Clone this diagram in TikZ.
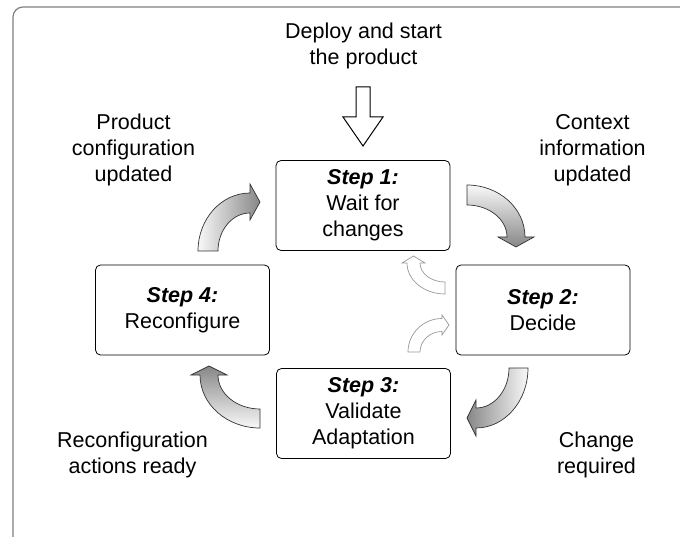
\documentclass[tikz,border=0pt]{standalone}
\usepackage{fontspec}
\setmainfont{Liberation Sans}
\begin{document}
\begin{tikzpicture}[x=1pt,y=1pt,
  lbl/.style={align=center, font=\fontsize{21.5}{26}\selectfont, inner sep=0pt},
  stepbox/.style={draw=black, line width=0.8pt, rounded corners=5pt, fill=white,
    minimum width=174pt, minimum height=90pt, align=center,
    font=\fontsize{21.5}{26}\selectfont, inner sep=0pt},
  bigarr/.style={draw=black!80, line width=0.7pt},
  smallarr/.style={draw=black!40, fill=white, line width=0.7pt},
  startarr/.style={draw=black, fill=white, line width=1pt},
]
\definecolor{arrdark}{RGB}{135,135,135}
\definecolor{arrlight}{RGB}{248,248,248}
\useasboundingbox (0,0) rectangle (680,536);
\begin{scope}
\clip (0,0) rectangle (680,536);
\draw[draw=black!50, line width=1.2pt, rounded corners=10pt] (13,-40) rectangle (720,529);
\end{scope}

% boxes
\node[stepbox] (s1) at (363,330.5) {\textbf{\textit{Step 1:}}\\Wait for\\changes};
\node[stepbox] (s2) at (543,226) {\textbf{\textit{Step 2:}}\\Decide};
\node[stepbox] (s3) at (363.5,122.5) {\textbf{\textit{Step 3:}}\\Validate\\Adaptation};
\node[stepbox] (s4) at (182.5,226) {\textbf{\textit{Step 4:}}\\Reconfigure};

% labels
\node[lbl] (l0) at (363.5,490.5) {Deploy and start\\the product};
\node[lbl] (l1) at (133.5,386) {Product\\configuration\\updated};
\node[lbl] (l2) at (592.5,386) {Context\\information\\updated};
\node[lbl] (l3) at (596.5,81.5) {Change\\required};
\node[lbl] (l4) at (132.5,81.5) {Reconfiguration\\actions ready};

% start arrow
\draw[startarr] (356,449) -- (370,449) -- (370,419) -- (383,419) -- (363,390) -- (343,419) -- (356,419) -- cycle;

% big curved arrows
\shadedraw[bigarr, left color=arrlight, right color=arrdark]
  (198,285) arc[start angle=180, end angle=90, x radius=52, y radius=58]
  -- (250,352) -- (260,334) -- (250,316) -- (250,323)
  arc[start angle=90, end angle=180, x radius=32, y radius=38] -- cycle;
\shadedraw[bigarr, top color=arrlight, bottom color=arrdark]
  (467,351) arc[start angle=90, end angle=0, x radius=58, y radius=52]
  -- (534,299) -- (516,289) -- (498,299) -- (507,299)
  arc[start angle=0, end angle=90, x radius=40, y radius=32] -- cycle;
\shadedraw[bigarr, left color=arrdark, right color=arrlight]
  (528,168) arc[start angle=0, end angle=-90, x radius=52, y radius=60]
  -- (476,100) -- (467,118) -- (476,136) -- (476,128)
  arc[start angle=-90, end angle=0, x radius=33, y radius=40] -- cycle;
\shadedraw[bigarr, top color=arrdark, bottom color=arrlight]
  (260,108) arc[start angle=270, end angle=180, x radius=60, y radius=53]
  -- (191,161) -- (209,170) -- (227,161) -- (218,161)
  arc[start angle=180, end angle=270, x radius=42, y radius=34] -- cycle;

% small hollow arrows
\draw[smallarr]
  (445,242) arc[start angle=270, end angle=180, x radius=38, y radius=31]
  -- (402,273) -- (413.5,280) -- (425,273) -- (420,273)
  arc[start angle=180, end angle=270, x radius=25, y radius=19] -- cycle;
\draw[smallarr]
  (408,184) arc[start angle=180, end angle=90, x radius=34, y radius=33.5]
  -- (442,221) -- (449,211) -- (442,201) -- (442,204.5)
  arc[start angle=90, end angle=180, x radius=22, y radius=20.5] -- cycle;
\end{tikzpicture}
\end{document}
